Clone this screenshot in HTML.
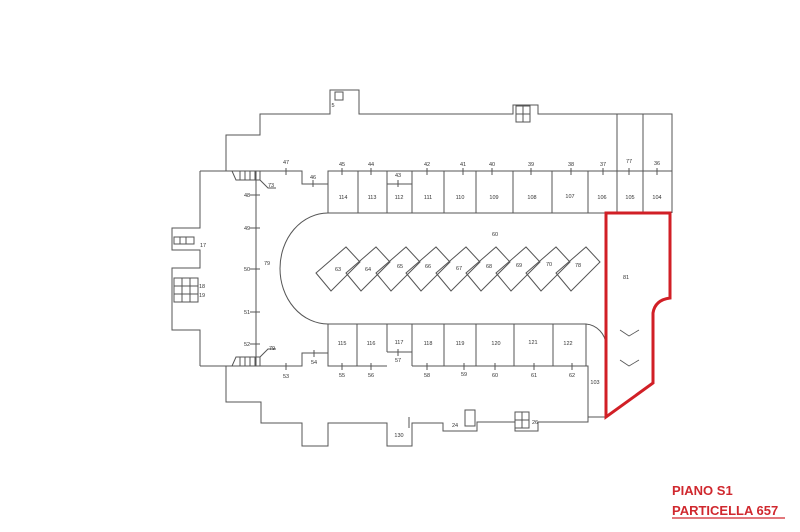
<!DOCTYPE html>
<html><head><meta charset="utf-8"><style>
html,body{margin:0;padding:0;background:#fff;width:800px;height:532px;overflow:hidden}
svg{display:block}
text{font-family:"Liberation Sans",sans-serif;font-size:5.5px;fill:#333;text-anchor:middle}
.t{font-size:13px;font-weight:bold;fill:#d0282e;text-anchor:start}
</style></head><body>
<svg width="800" height="532" viewBox="0 0 800 532">
<g fill="none" stroke="#555" stroke-width="1">
<!-- outer top -->
<path d="M200,171 L226,171 L226,135 L260,135 L260,114 L330,114 L330,90 L359,90 L359,114 L513,114 L513,105 L538,105 L538,114 L672,114 L672,213"/>
<line x1="617" y1="114" x2="617" y2="171"/>
<line x1="643" y1="114" x2="643" y2="171"/>
<!-- top line with step -->
<path d="M200,171 L302,171 L302,184 L328,184 L328,171 L672,171"/>
<path d="M387,184 L412,184"/>
<!-- top boxes -->
<path d="M328,171 V213 M358,171 V213 M387,171 V213 M412,171 V213 M444,171 V213 M476,171 V213 M513,171 V213 M552,171 V213 M588,171 V213 M617,171 V213 M643,171 V213"/>
<line x1="328" y1="213" x2="606" y2="213"/>
<!-- arc -->
<path d="M328,213 A48,55.5 0 0 0 328,324"/>
<!-- bottom boxes -->
<line x1="328" y1="324" x2="586" y2="324"/>
<path d="M328,324 V366 M357,324 V366 M387,324 V352 M412,324 V366 M444,324 V366 M476,324 V366 M514,324 V366 M553,324 V366 M586,324 V366"/>
<path d="M387,352 H412"/>
<path d="M586,324 A22,22 0 0 1 606,345"/>
<!-- bottom line -->
<path d="M200,366 L302,366 L302,353 L328,353 L328,366 L387,366 M412,366 L588,366 L588,417 L606,417"/>
<!-- left wall -->
<path d="M200,171 L200,228 L172,228 L172,250 L200,250 L200,268 L172,268 L172,330 L200,330 L200,366"/>
<line x1="256" y1="171" x2="256" y2="366"/>
<!-- lower outer -->
<path d="M226,366 L226,402 L261,402 L261,423 L302,423 L302,446 L328,446 L328,423 L387,423 L387,446 L412,446 L412,423 L443,423 L443,431 L477,431 L477,422 L515,422 L515,431 L538,431 L538,422 L588,422 L588,417"/>
<line x1="409" y1="417" x2="409" y2="428"/>
<!-- diamonds -->
<g id="d"><path d="M316,273 L346,247 L360,262 L331,291 Z"/></g>
<use href="#d" x="30"/><use href="#d" x="60"/><use href="#d" x="90"/><use href="#d" x="120"/><use href="#d" x="150"/><use href="#d" x="180"/><use href="#d" x="210"/><use href="#d" x="240"/>
<!-- chevrons -->
<path d="M620,330 L629,336 L639,330 M620,360 L629,366 L639,360" stroke-width="0.8"/>
<!-- stairs -->
<path d="M232,171 h28 v9 h-24 z M240,171 v9 M245,171 v9 M250,171 v9 M255,171 v9"/>
<path d="M232,366 h28 v-9 h-24 z M240,366 v-9 M245,366 v-9 M250,366 v-9 M255,366 v-9"/>
<path d="M174,237 h20 v7 h-20 z M180,237 v7 M186,237 v7 M174,278 h24 v24 h-24 z M174,286 h24 M174,294 h24 M182,278 v24 M190,278 v24"/>
<path d="M335,92 h8 v8 h-8 z M516,106 h14 v16 h-14 z M516,114 h14 M523,106 v16 M465,410 h10 v16 h-10 z M515,412 h14 v16 h-14 z M515,420 h14 M522,412 v16"/>
<!-- ticks -->
<path d="M250,195 h10 M250,228 h10 M250,269 h10 M250,312 h10 M250,344 h10"/>
<path d="M286,168 v7 M313,180 v7 M342,168 v7 M371,168 v7 M398,180 v7 M427,168 v7 M463,168 v7 M492,168 v7 M531,168 v7 M571,168 v7 M603,168 v7 M629,168 v7 M657,168 v7"/>
<path d="M286,363 v7 M314,350 v7 M342,363 v7 M371,363 v7 M398,349 v7 M427,363 v7 M464,363 v7 M495,363 v7 M534,363 v7 M572,363 v7"/>
<path d="M260,180 l8,8 h8 M260,357 l8,-8 h8"/>
</g>
<!-- red unit -->
<path d="M606,213 L670,213 L670,298 Q655,300 653,313 L653,383 L606,417 Z" fill="none" stroke="#d11f26" stroke-width="3"/>
<g>
<text x="338" y="271">63</text><text x="368" y="271">64</text><text x="400" y="268">65</text><text x="428" y="268">66</text><text x="459" y="270">67</text><text x="489" y="268">68</text><text x="519" y="267">69</text><text x="549" y="266">70</text><text x="578" y="267">78</text>
<text x="495" y="236">60</text><text x="626" y="279">81</text>
<text x="343" y="199">114</text><text x="372" y="199">113</text><text x="399" y="199">112</text><text x="428" y="199">111</text><text x="460" y="199">110</text><text x="494" y="199">109</text><text x="532" y="199">108</text><text x="570" y="198">107</text><text x="602" y="199">106</text><text x="630" y="199">105</text><text x="657" y="199">104</text>
<text x="342" y="345">115</text><text x="371" y="345">116</text><text x="399" y="344">117</text><text x="428" y="345">118</text><text x="460" y="345">119</text><text x="496" y="345">120</text><text x="533" y="344">121</text><text x="568" y="345">122</text><text x="595" y="384">103</text><text x="399" y="437">130</text>
<text x="286" y="164">47</text><text x="313" y="179">46</text><text x="342" y="166">45</text><text x="371" y="166">44</text><text x="398" y="177">43</text><text x="427" y="166">42</text><text x="463" y="166">41</text><text x="492" y="166">40</text><text x="531" y="166">39</text><text x="571" y="166">38</text><text x="603" y="166">37</text><text x="629" y="163">77</text><text x="657" y="165">36</text>
<text x="286" y="378">53</text><text x="314" y="364">54</text><text x="342" y="377">55</text><text x="371" y="377">56</text><text x="398" y="362">57</text><text x="427" y="377">58</text><text x="464" y="376">59</text><text x="495" y="377">60</text><text x="534" y="377">61</text><text x="572" y="377">62</text>
<text x="247" y="197">48</text><text x="247" y="230">49</text><text x="247" y="271">50</text><text x="247" y="314">51</text><text x="247" y="346">52</text>
<text x="267" y="265">79</text><text x="271" y="187">73</text><text x="272" y="350">79</text>
<text x="203" y="247">17</text><text x="202" y="288">18</text><text x="202" y="297">19</text><text x="333" y="107">5</text><text x="455" y="427">24</text><text x="535" y="424">26</text>
</g>
<text class="t" x="672" y="495">PIANO S1</text>
<text class="t" x="672" y="515">PARTICELLA 657</text>
<line x1="672" y1="518" x2="785" y2="518" stroke="#d0282e" stroke-width="1.2"/>
</svg>
</body></html>
